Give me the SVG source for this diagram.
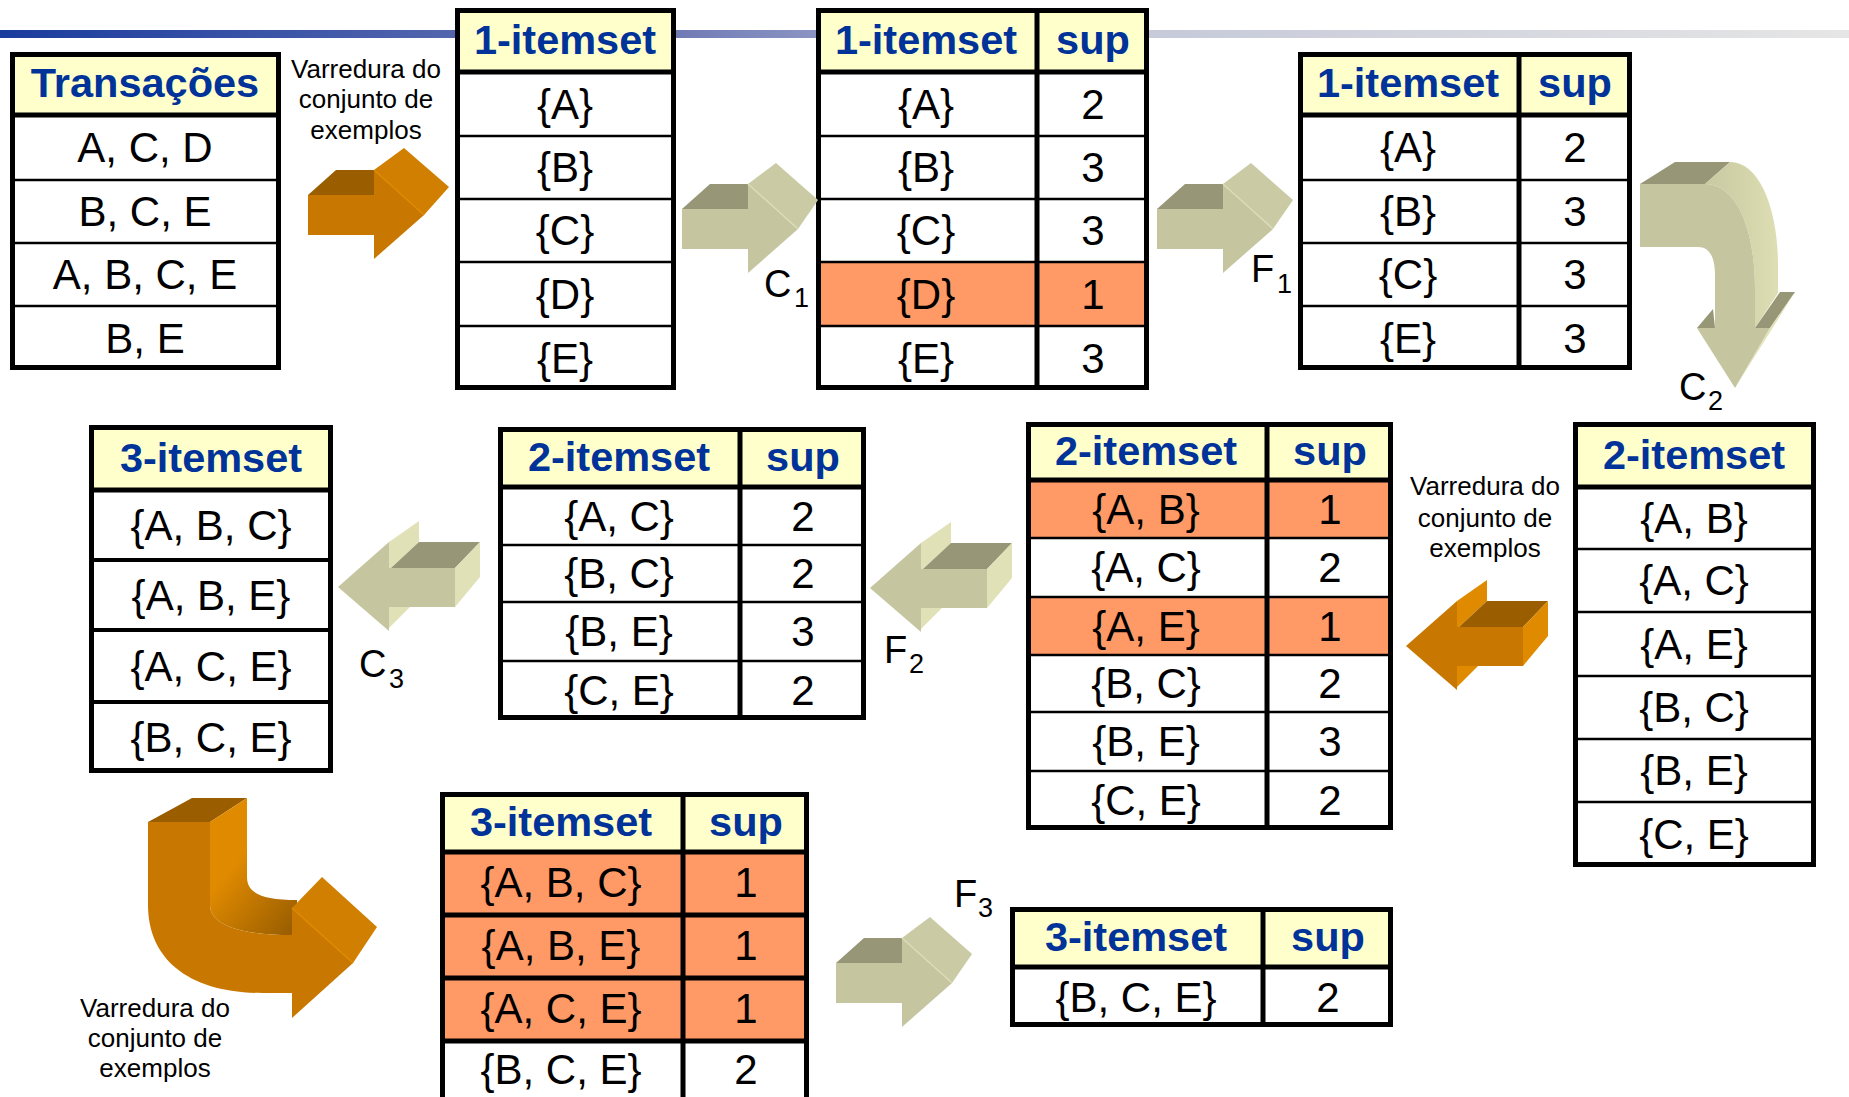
<svg xmlns="http://www.w3.org/2000/svg" width="1849" height="1097" viewBox="0 0 1849 1097">
  <defs>
    <linearGradient id="bar" x1="0" y1="0" x2="1849" y2="0" gradientUnits="userSpaceOnUse">
      <stop offset="0" stop-color="#1a3c9e"/>
      <stop offset="0.35" stop-color="#6a76b4"/>
      <stop offset="0.6" stop-color="#c4c8d8"/>
      <stop offset="1" stop-color="#e6e6e6"/>
    </linearGradient>
    <linearGradient id="gInner" x1="225" y1="875" x2="292" y2="930" gradientUnits="userSpaceOnUse">
      <stop offset="0" stop-color="#e08a00"/>
      <stop offset="1" stop-color="#9a5e00"/>
    </linearGradient>
    <linearGradient id="dSide" x1="1705" y1="0" x2="1778" y2="0" gradientUnits="userSpaceOnUse">
      <stop offset="0" stop-color="#c9c9a2"/>
      <stop offset="0.5" stop-color="#d3d3aa"/>
      <stop offset="1" stop-color="#dedeb4"/>
    </linearGradient>
    <style>
      .hdr { fill: #ffffcc; }
      .cell { fill: #ffffff; }
      .hot { fill: #ff9966; }
      .frame { fill: none; stroke: #000; stroke-width: 5; }
      .thick { stroke: #000; stroke-width: 5; }
      .thin { stroke: #000; stroke-width: 2.5; }
      .mid { stroke: #000; stroke-width: 4; }
      .ht { font-family: "Liberation Sans", Arial, sans-serif; font-weight: bold; font-size: 41.5px; fill: #003399; text-anchor: middle; }
      .bt { font-family: "Liberation Sans", Arial, sans-serif; font-size: 42px; fill: #000; text-anchor: middle; }
      .note { font-family: "Liberation Sans", Arial, sans-serif; font-size: 26px; fill: #000; text-anchor: middle; }
      .lbl { font-family: "Liberation Sans", Arial, sans-serif; font-size: 38px; fill: #000; }
      .sub { font-family: "Liberation Sans", Arial, sans-serif; font-size: 27px; fill: #000; }
      /* olive block arrows */
      .olive .front { fill: #c5c59f; }
      .olive .dark { fill: #979777; }
      .olive .light { fill: #e1e1b7; }
      .olive .side { fill: #cacaa4; }
      .olive .edge { stroke: #dcdcb8; stroke-width: 1.5; fill: none; }
      /* orange block arrows */
      .orange .front { fill: #c87800; }
      .orange .dark { fill: #9a5e00; }
      .orange .light { fill: #e08a00; }
      .orange .side { fill: #d07f00; }
      .orange .edge { stroke: #e08a00; stroke-width: 1.5; fill: none; }
    </style>
  </defs>

  <rect width="1849" height="1097" fill="#ffffff"/>
  <!-- header rule -->
  <rect x="0" y="30" width="1849" height="8" fill="url(#bar)"/>

  <!-- Transações -->
  <g id="transacoes">
    <rect class="hdr" x="10" y="52" width="271" height="63"/>
    <rect class="cell" x="10" y="115" width="271" height="255"/>
    <line class="thin" x1="10" y1="180" x2="281" y2="180"/>
    <line class="thin" x1="10" y1="243" x2="281" y2="243"/>
    <line class="thin" x1="10" y1="306" x2="281" y2="306"/>
    <line class="thick" x1="10" y1="115" x2="281" y2="115"/>
    <rect class="frame" x="12.5" y="54.5" width="266" height="313"/>
    <text class="ht" x="145" y="97">Transações</text>
    <text class="bt" x="145" y="162">A, C, D</text>
    <text class="bt" x="145" y="226">B, C, E</text>
    <text class="bt" x="145" y="289">A, B, C, E</text>
    <text class="bt" x="145" y="353">B, E</text>
  </g>

  <!-- C1 candidates -->
  <g id="c1-list">
    <rect class="hdr" x="455" y="8" width="221" height="64"/>
    <rect class="cell" x="455" y="72" width="221" height="318"/>
    <line class="thin" x1="455" y1="136" x2="676" y2="136"/>
    <line class="thin" x1="455" y1="199" x2="676" y2="199"/>
    <line class="thin" x1="455" y1="262" x2="676" y2="262"/>
    <line class="thin" x1="455" y1="326" x2="676" y2="326"/>
    <line class="thick" x1="455" y1="72" x2="676" y2="72"/>
    <rect class="frame" x="457.5" y="10.5" width="216" height="377"/>
    <text class="ht" x="565" y="54">1-itemset</text>
    <text class="bt" x="565" y="119">{A}</text>
    <text class="bt" x="565" y="182">{B}</text>
    <text class="bt" x="565" y="245">{C}</text>
    <text class="bt" x="565" y="309">{D}</text>
    <text class="bt" x="565" y="373">{E}</text>
  </g>

  <!-- C1 with support -->
  <g id="c1-count">
    <rect class="hdr" x="816" y="8" width="333" height="64"/>
    <rect class="cell" x="816" y="72" width="333" height="318"/>
    <rect class="hot" x="816" y="262" width="333" height="64"/>
    <line class="thin" x1="816" y1="136" x2="1149" y2="136"/>
    <line class="thin" x1="816" y1="199" x2="1149" y2="199"/>
    <line class="thin" x1="816" y1="262" x2="1149" y2="262"/>
    <line class="thin" x1="816" y1="326" x2="1149" y2="326"/>
    <line class="thick" x1="816" y1="72" x2="1149" y2="72"/>
    <line class="thick" x1="1037" y1="8" x2="1037" y2="390"/>
    <rect class="frame" x="818.5" y="10.5" width="328" height="377"/>
    <text class="ht" x="926" y="54">1-itemset</text>
    <text class="ht" x="1093" y="54">sup</text>
    <text class="bt" x="926" y="119">{A}</text><text class="bt" x="1093" y="119">2</text>
    <text class="bt" x="926" y="182">{B}</text><text class="bt" x="1093" y="182">3</text>
    <text class="bt" x="926" y="245">{C}</text><text class="bt" x="1093" y="245">3</text>
    <text class="bt" x="926" y="309">{D}</text><text class="bt" x="1093" y="309">1</text>
    <text class="bt" x="926" y="373">{E}</text><text class="bt" x="1093" y="373">3</text>
  </g>

  <!-- F1 -->
  <g id="f1">
    <rect class="hdr" x="1298" y="52" width="334" height="63"/>
    <rect class="cell" x="1298" y="115" width="334" height="255"/>
    <line class="thin" x1="1298" y1="180" x2="1632" y2="180"/>
    <line class="thin" x1="1298" y1="243" x2="1632" y2="243"/>
    <line class="thin" x1="1298" y1="306" x2="1632" y2="306"/>
    <line class="thick" x1="1298" y1="115" x2="1632" y2="115"/>
    <line class="thick" x1="1519" y1="52" x2="1519" y2="370"/>
    <rect class="frame" x="1300.5" y="54.5" width="329" height="313"/>
    <text class="ht" x="1408" y="97">1-itemset</text>
    <text class="ht" x="1575" y="97">sup</text>
    <text class="bt" x="1408" y="162">{A}</text><text class="bt" x="1575" y="162">2</text>
    <text class="bt" x="1408" y="226">{B}</text><text class="bt" x="1575" y="226">3</text>
    <text class="bt" x="1408" y="289">{C}</text><text class="bt" x="1575" y="289">3</text>
    <text class="bt" x="1408" y="353">{E}</text><text class="bt" x="1575" y="353">3</text>
  </g>

  <!-- C2 candidates -->
  <g id="c2-list">
    <rect class="hdr" x="1573" y="422" width="243" height="65"/>
    <rect class="cell" x="1573" y="487" width="243" height="380"/>
    <line class="thin" x1="1573" y1="549" x2="1816" y2="549"/>
    <line class="thin" x1="1573" y1="612" x2="1816" y2="612"/>
    <line class="thin" x1="1573" y1="676" x2="1816" y2="676"/>
    <line class="thin" x1="1573" y1="739" x2="1816" y2="739"/>
    <line class="thin" x1="1573" y1="802" x2="1816" y2="802"/>
    <line class="thick" x1="1573" y1="487" x2="1816" y2="487"/>
    <rect class="frame" x="1575.5" y="424.5" width="238" height="440"/>
    <text class="ht" x="1694" y="469">2-itemset</text>
    <text class="bt" x="1694" y="533">{A, B}</text>
    <text class="bt" x="1694" y="595">{A, C}</text>
    <text class="bt" x="1694" y="659">{A, E}</text>
    <text class="bt" x="1694" y="722">{B, C}</text>
    <text class="bt" x="1694" y="785">{B, E}</text>
    <text class="bt" x="1694" y="849">{C, E}</text>
  </g>

  <!-- C2 with support -->
  <g id="c2-count">
    <rect class="hdr" x="1026" y="422" width="367" height="58"/>
    <rect class="cell" x="1026" y="480" width="367" height="350"/>
    <rect class="hot" x="1026" y="480" width="367" height="58"/>
    <rect class="hot" x="1026" y="597" width="367" height="58"/>
    <line class="thin" x1="1026" y1="538" x2="1393" y2="538"/>
    <line class="thin" x1="1026" y1="597" x2="1393" y2="597"/>
    <line class="thin" x1="1026" y1="655" x2="1393" y2="655"/>
    <line class="thin" x1="1026" y1="712" x2="1393" y2="712"/>
    <line class="thin" x1="1026" y1="771" x2="1393" y2="771"/>
    <line class="thick" x1="1026" y1="480" x2="1393" y2="480"/>
    <line class="thick" x1="1267" y1="422" x2="1267" y2="830"/>
    <rect class="frame" x="1028.5" y="424.5" width="362" height="403"/>
    <text class="ht" x="1146" y="465">2-itemset</text>
    <text class="ht" x="1330" y="465">sup</text>
    <text class="bt" x="1146" y="524">{A, B}</text><text class="bt" x="1330" y="524">1</text>
    <text class="bt" x="1146" y="582">{A, C}</text><text class="bt" x="1330" y="582">2</text>
    <text class="bt" x="1146" y="641">{A, E}</text><text class="bt" x="1330" y="641">1</text>
    <text class="bt" x="1146" y="698">{B, C}</text><text class="bt" x="1330" y="698">2</text>
    <text class="bt" x="1146" y="756">{B, E}</text><text class="bt" x="1330" y="756">3</text>
    <text class="bt" x="1146" y="815">{C, E}</text><text class="bt" x="1330" y="815">2</text>
  </g>

  <!-- F2 -->
  <g id="f2">
    <rect class="hdr" x="498" y="427" width="368" height="60"/>
    <rect class="cell" x="498" y="487" width="368" height="233"/>
    <line class="thin" x1="498" y1="545" x2="866" y2="545"/>
    <line class="thin" x1="498" y1="602" x2="866" y2="602"/>
    <line class="thin" x1="498" y1="661" x2="866" y2="661"/>
    <line class="thick" x1="498" y1="487" x2="866" y2="487"/>
    <line class="thick" x1="740" y1="427" x2="740" y2="720"/>
    <rect class="frame" x="500.5" y="429.5" width="363" height="288"/>
    <text class="ht" x="619" y="471">2-itemset</text>
    <text class="ht" x="803" y="471">sup</text>
    <text class="bt" x="619" y="531">{A, C}</text><text class="bt" x="803" y="531">2</text>
    <text class="bt" x="619" y="588">{B, C}</text><text class="bt" x="803" y="588">2</text>
    <text class="bt" x="619" y="646">{B, E}</text><text class="bt" x="803" y="646">3</text>
    <text class="bt" x="619" y="705">{C, E}</text><text class="bt" x="803" y="705">2</text>
  </g>

  <!-- C3 candidates -->
  <g id="c3-list">
    <rect class="hdr" x="89" y="425" width="244" height="65"/>
    <rect class="cell" x="89" y="490" width="244" height="283"/>
    <line class="mid" x1="89" y1="560" x2="333" y2="560"/>
    <line class="mid" x1="89" y1="630" x2="333" y2="630"/>
    <line class="mid" x1="89" y1="702" x2="333" y2="702"/>
    <line class="thick" x1="89" y1="490" x2="333" y2="490"/>
    <rect class="frame" x="91.5" y="427.5" width="239" height="343"/>
    <text class="ht" x="211" y="472">3-itemset</text>
    <text class="bt" x="211" y="540">{A, B, C}</text>
    <text class="bt" x="211" y="610">{A, B, E}</text>
    <text class="bt" x="211" y="681">{A, C, E}</text>
    <text class="bt" x="211" y="752">{B, C, E}</text>
  </g>

  <!-- C3 with support -->
  <g id="c3-count">
    <rect class="hdr" x="440" y="792" width="369" height="60"/>
    <rect class="cell" x="440" y="852" width="369" height="252"/>
    <rect class="hot" x="440" y="852" width="369" height="189"/>
    <line class="thick" x1="440" y1="915" x2="809" y2="915"/>
    <line class="thick" x1="440" y1="978" x2="809" y2="978"/>
    <line class="thick" x1="440" y1="1041" x2="809" y2="1041"/>
    <line class="thick" x1="440" y1="852" x2="809" y2="852"/>
    <line class="thick" x1="683" y1="792" x2="683" y2="1104"/>
    <rect class="frame" x="442.5" y="794.5" width="364" height="307"/>
    <text class="ht" x="561" y="836">3-itemset</text>
    <text class="ht" x="746" y="836">sup</text>
    <text class="bt" x="561" y="897">{A, B, C}</text><text class="bt" x="746" y="897">1</text>
    <text class="bt" x="561" y="960">{A, B, E}</text><text class="bt" x="746" y="960">1</text>
    <text class="bt" x="561" y="1023">{A, C, E}</text><text class="bt" x="746" y="1023">1</text>
    <text class="bt" x="561" y="1084">{B, C, E}</text><text class="bt" x="746" y="1084">2</text>
  </g>

  <!-- F3 -->
  <g id="f3">
    <rect class="hdr" x="1010" y="907" width="383" height="60"/>
    <rect class="cell" x="1010" y="967" width="383" height="60"/>
    <line class="thick" x1="1010" y1="967" x2="1393" y2="967"/>
    <line class="thick" x1="1263" y1="907" x2="1263" y2="1027"/>
    <rect class="frame" x="1012.5" y="909.5" width="378" height="115"/>
    <text class="ht" x="1136" y="951">3-itemset</text>
    <text class="ht" x="1328" y="951">sup</text>
    <text class="bt" x="1136" y="1012">{B, C, E}</text><text class="bt" x="1328" y="1012">2</text>
  </g>

  <!-- block arrows between the tables -->
  <g id="connectors">
    <!-- right-pointing straight arrows -->
    <g class="orange" transform="translate(308,195)">
      <polygon class="dark" points="0,0 28,-25 66,-25 66,0"/>
      <polygon class="front" points="0,0 66,0 66,40 0,40"/>
      <polygon class="side" points="66,-25 96,-47 141,-8 116,20"/>
      <polygon class="front" points="66,-25 116,20 66,64"/>
      <polyline class="edge" points="66,-25 116,20"/>
    </g>
    <g class="olive" transform="translate(682,209)">
      <polygon class="dark" points="0,0 28,-25 66,-25 66,0"/>
      <polygon class="front" points="0,0 66,0 66,40 0,40"/>
      <polygon class="side" points="66,-25 94,-46 136,-9 116,20"/>
      <polygon class="front" points="66,-25 116,20 66,64"/>
      <polyline class="edge" points="66,-25 116,20"/>
    </g>
    <g class="olive" transform="translate(1157,209)">
      <polygon class="dark" points="0,0 28,-25 66,-25 66,0"/>
      <polygon class="front" points="0,0 66,0 66,40 0,40"/>
      <polygon class="side" points="66,-25 94,-46 136,-9 116,20"/>
      <polygon class="front" points="66,-25 116,20 66,64"/>
      <polyline class="edge" points="66,-25 116,20"/>
    </g>
    <g class="olive" transform="translate(836,963)">
      <polygon class="dark" points="0,0 28,-25 66,-25 66,0"/>
      <polygon class="front" points="0,0 66,0 66,40 0,40"/>
      <polygon class="side" points="66,-25 94,-46 136,-9 116,20"/>
      <polygon class="front" points="66,-25 116,20 66,64"/>
      <polyline class="edge" points="66,-25 116,20"/>
    </g>

    <!-- left-pointing straight arrows -->
    <g class="orange" transform="translate(1523,627)">
      <polygon class="front" points="-117,19 -66,-26 -66,63"/>
      <polygon class="light" points="-66,-26 -36,-47 -36,-26 -64,0 -66,0"/>
      <polygon class="dark" points="-64,0 -36,-26 25,-26 0,0"/>
      <polygon class="light" points="0,0 25,-26 25,9 0,39"/>
      <polygon class="front" points="-66,0 0,0 0,39 -66,39"/>
      <polygon class="light" points="-66,39 -45,39 -66,60"/>
    </g>
    <g class="olive" transform="translate(987,569)">
      <polygon class="front" points="-117,19 -66,-26 -66,63"/>
      <polygon class="light" points="-66,-26 -36,-47 -36,-26 -64,0 -66,0"/>
      <polygon class="dark" points="-64,0 -36,-26 25,-26 0,0"/>
      <polygon class="light" points="0,0 25,-26 25,9 0,39"/>
      <polygon class="front" points="-66,0 0,0 0,39 -66,39"/>
      <polygon class="light" points="-66,39 -45,39 -66,60"/>
    </g>
    <g class="olive" transform="translate(455,568)">
      <polygon class="front" points="-117,19 -66,-26 -66,63"/>
      <polygon class="light" points="-66,-26 -36,-47 -36,-26 -64,0 -66,0"/>
      <polygon class="dark" points="-64,0 -36,-26 25,-26 0,0"/>
      <polygon class="light" points="0,0 25,-26 25,9 0,39"/>
      <polygon class="front" points="-66,0 0,0 0,39 -66,39"/>
      <polygon class="light" points="-66,39 -45,39 -66,60"/>
    </g>

    <!-- curved arrow turning down (F1 to C2) -->
    <g class="olive">
      <polygon class="dark" points="1640,184 1675,162 1730,162 1705,184"/>
      <path fill="url(#dSide)" d="M1705,184 L1730,162 C1760,162 1778,210 1778,265 L1778,293 L1755,328 L1755,290 C1755,225 1735,184 1705,184 Z"/>
      <path class="front" d="M1640,184 L1705,184 C1735,184 1755,225 1755,290 L1755,328 L1715,328 L1715,275 C1715,258 1710,247 1698,247 L1640,247 Z"/>
      <polygon class="dark" points="1697,328 1713,309 1715,328"/>
      <polygon class="dark" points="1755,328 1780,292 1795,292 1770,328"/>
      <polygon class="front" points="1697,328 1770,328 1735,388"/>
      <polygon class="light" points="1770,328 1795,292 1735,388"/>
    </g>

    <!-- curved arrow turning right (C3 to counted C3) -->
    <g class="orange">
      <polygon class="dark" points="148,822 192,798 247,798 210,822"/>
      <path fill="url(#gInner)" d="M210,822 L247,798 L247,877 C247,893 262,900 297,900 L297,935 L292,935 C240,935 210,925 210,905 Z"/>
      <path class="front" d="M148,822 L210,822 L210,905 C210,925 240,935 292,935 L292,993 L262,993 C190,993 148,960 148,905 Z"/>
      <polygon class="side" points="292,908 322,877 377,927 353,963"/>
      <polygon class="front" points="292,908 353,963 292,1018"/>
      <polyline class="edge" points="292,908 353,963"/>
    </g>
  </g>

  <!-- step labels -->
  <g id="labels">
    <text class="lbl" x="764" y="297">C</text><text class="sub" x="794" y="307">1</text>
    <text class="lbl" x="1251" y="282">F</text><text class="sub" x="1277" y="293">1</text>
    <text class="lbl" x="1679" y="400">C</text><text class="sub" x="1708" y="410">2</text>
    <text class="lbl" x="359" y="677">C</text><text class="sub" x="389" y="688">3</text>
    <text class="lbl" x="884" y="663">F</text><text class="sub" x="909" y="673">2</text>
    <text class="lbl" x="954" y="907">F</text><text class="sub" x="978" y="917">3</text>
  </g>

  <!-- database scan notes -->
  <g id="scan-notes">
    <text class="note" x="366" y="78">Varredura do</text>
    <text class="note" x="366" y="108">conjunto de</text>
    <text class="note" x="366" y="139">exemplos</text>
    <text class="note" x="1485" y="495">Varredura do</text>
    <text class="note" x="1485" y="527">conjunto de</text>
    <text class="note" x="1485" y="557">exemplos</text>
    <text class="note" x="155" y="1017">Varredura do</text>
    <text class="note" x="155" y="1047">conjunto de</text>
    <text class="note" x="155" y="1077">exemplos</text>
  </g>
</svg>
